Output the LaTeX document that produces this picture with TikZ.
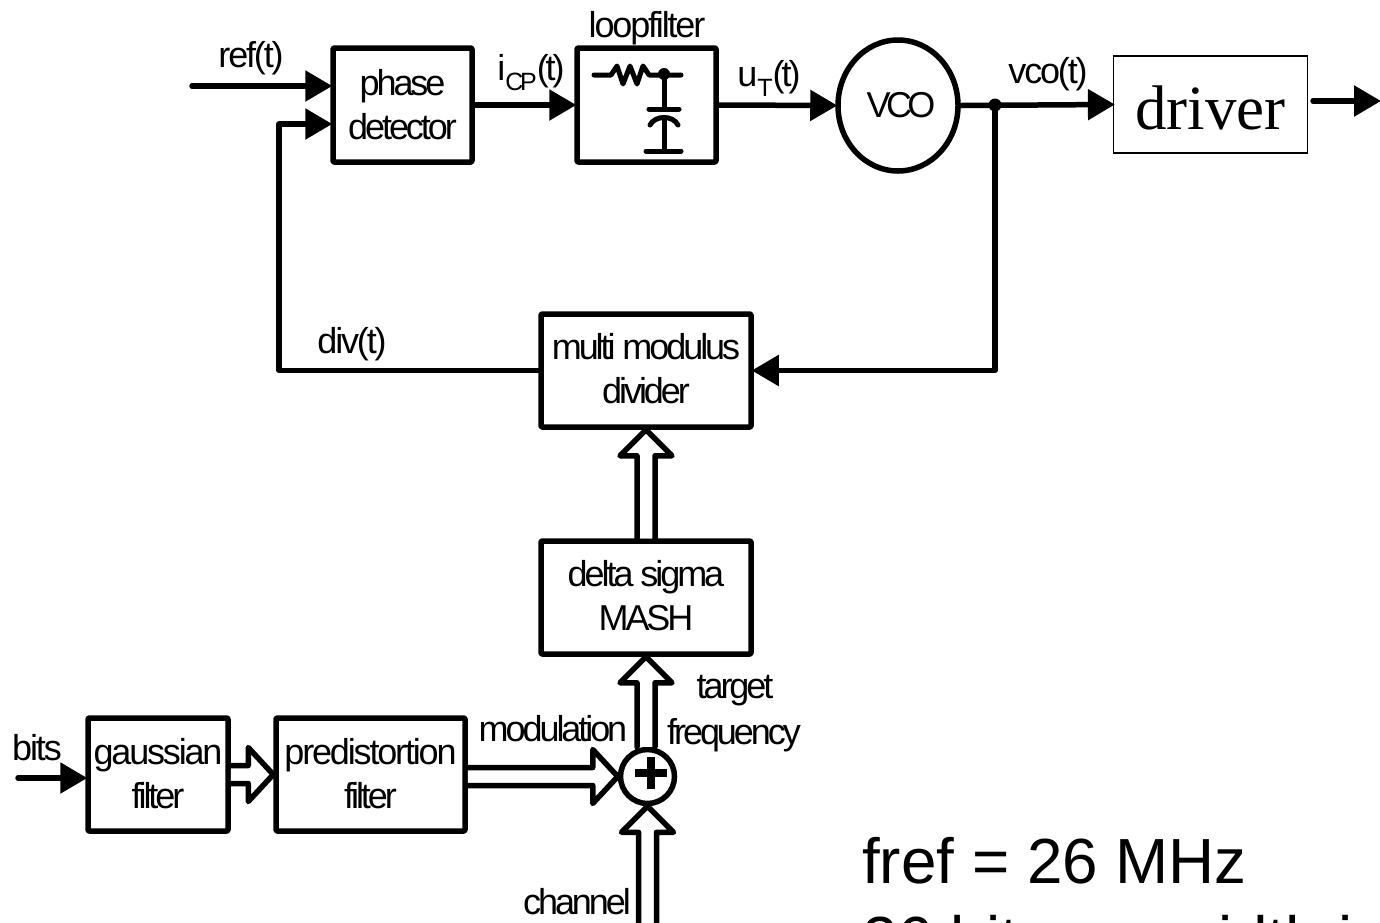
\documentclass[tikz,border=0pt]{standalone}
\usepackage{fontspec}
\setmainfont{Liberation Sans}
\newfontfamily\labf[LetterSpace=-8.5]{Liberation Sans}
\newfontfamily\midf[LetterSpace=-6]{Liberation Sans}
\newfontfamily\tightf[LetterSpace=-13]{Liberation Sans}
\newfontfamily\bigf{Liberation Sans}
\newfontfamily\tmsf{Liberation Serif}
\usetikzlibrary{arrows.meta,calc,shapes.geometric}
\tikzset{
  x=1pt,y=-1pt,
  blk/.style={draw,line width=5.5pt,line join=round,rounded corners=1pt,align=center,inner sep=0pt,
    font=\labf\fontsize{36}{44}\selectfont},
  txt/.style={inner sep=0pt,align=center,font=\labf\fontsize{36}{44}\selectfont},
  wire/.style={line width=5.5pt,line cap=round,line join=round},
  arr/.style={wire,shorten >=-2pt,-{Triangle[length=27pt,width=30pt]}},
  hollow/.style={draw,fill=white,line width=5.5pt,line join=round,line cap=round},
  note/.style={anchor=base west,inner sep=0pt,font=\bigf\fontsize{63.8}{76}\selectfont},
  sym/.style={line width=5pt,line cap=round,line join=round},
}
\newcommand\subs[1]{\raisebox{-10pt}{{\tightf\fontsize{25}{25}\selectfont #1}}}
% hollow arrow pointing up: from point #1 up to point #2
\newcommand\hollowup[2]{\draw[hollow] let \p1=(#1),\p2=(#2) in
  (\x2-9pt,\y1) -- (\x2-9pt,\y2-26pt) -- (\x2-26pt,\y2-26pt) -- (\x2,\y2) --
  (\x2+26pt,\y2-26pt) -- (\x2+9pt,\y2-26pt) -- (\x2+9pt,\y1);}
% hollow arrow pointing right
\newcommand\hollowright[2]{\draw[hollow] let \p1=(#1),\p2=(#2) in
  (\x1,\y2+9pt) -- (\x2-25pt,\y2+9pt) -- (\x2-25pt,\y2+27pt) -- (\x2,\y2) --
  (\x2-25pt,\y2-27pt) -- (\x2-25pt,\y2-9pt) -- (\x1,\y2-9pt);}
\begin{document}
\begin{tikzpicture}
\useasboundingbox (0,0) rectangle (1380,922);
\clip (0,0) rectangle (1380,922);
\fill[white] (0,0) rectangle (1380,922);
% blocks
\node[blk,minimum width=139pt,minimum height=114pt] (pd) at (402.5,105) {phase\\detector\\[-42pt]};
\node[blk,minimum width=139pt,minimum height=114pt] (lf) at (646.5,105) {};
\node[blk,ellipse,minimum width=120pt,minimum height=131pt] (vco) at (898,105.5) {\hspace*{6pt}{\tightf VCO}};
\node[draw,line width=1.2pt,minimum width=194pt,minimum height=97pt,inner sep=0pt,
  font=\tmsf\fontsize{63}{63}\selectfont] (drv) at (1210.5,104.5) {\raisebox{-3pt}[43pt][0pt]{driver}};
\node[blk,minimum width=210pt,minimum height=113pt] (mm) at (646,370.5) {multi modulus\\divider\\[-40pt]};
\node[blk,minimum width=210pt,minimum height=113pt] (ds) at (646,597.5) {delta sigma\\MASH\\[-40pt]};
\node[blk,minimum width=140pt,minimum height=113pt] (gf) at (158,774.5) {{\midf gaussian}\\filter\\[-41pt]};
\node[blk,minimum width=189pt,minimum height=113pt] (pf) at (370.5,774.5) {{\midf predistortion}\\filter\\[-41pt]};
\node[draw,circle,line width=5.5pt,minimum size=54pt,inner sep=0pt] (sum) at (647.5,776.5) {};
% plus sign
\draw[line width=8pt] (635,773) -- (667,773);
\draw[line width=8pt] (651,757) -- (651,789);
% free ends and junctions
\coordinate (refin) at (192,86);
\coordinate (bitsin) at (18,778);
\coordinate (drvout) at (1313,101);
\coordinate (drvend) at (1379,101);
\coordinate (chin) at (648,930);
\coordinate (j) at (995,105);
\coordinate (fbcorner) at (279,124);
% wires
\draw[arr] (refin) -- (refin -| pd.west);
\draw[arr] (mm.west) -- (mm.west -| fbcorner) -- (fbcorner) -- (fbcorner -| pd.west);
\draw[arr] (pd.east |- lf) -- (lf.west);
\draw[arr] (lf.east) -- (vco.west);
\draw[arr] (vco.east) -- (drv.west);
\draw[arr] (drvout) -- (drvend);
\draw[arr] (j) -- (j |- mm.east) -- (mm.east);
\draw[arr] (bitsin) -- (bitsin -| gf.west);
\fill (j) circle (6.5pt);
% hollow buses
\hollowup{ds.north}{mm.south}
\hollowup{sum.north}{ds.south}
\hollowup{chin}{sum.south}
\hollowright{pf.east}{sum.west}
\hollowright{gf.east}{pf.west}
% loop filter symbol
\draw[sym]
  (594,75) -- (611,75) -- (617,66) -- (623,84) -- (630,66) -- (637,84) -- (643,66) -- (649,75) -- (681,75);
\fill (664,74) circle (6pt);
\draw[sym] (664,74) -- (664,109);
\draw[sym] (649,109) -- (679,109);
\draw[sym] (650,125) .. controls (655,115) and (673,115) .. (678,125);
\draw[sym] (664,118) -- (664,151);
\draw[sym] (646,151) -- (681,151);
% labels
\node[txt] (lref) at (251,58) {{\midf ref(t)}};
\node[txt] (licp) at (531,73) {i\subs{CP}(t)};
\node[txt] (lut) at (769,78) {u\subs{T}(t)};
\node[txt] (lvco) at (1048,74) {{\midf vco(t)}};
\node[txt] (llf) at (647,28) {{\midf loopfilter}};
\node[txt] (ldiv) at (352,344) {{\midf div(t)}};
\node[txt] (lbits) at (37,748) {{\midf bits}};
\node[txt] (lmod) at (553,729) {modulation};
\node[txt] (ltar) at (735,691) {target};
\node[txt] (lfrq) at (734,735) {frequency};
\node[txt] (lch) at (577,902) {channel};
\node[note] (n1) at (862,883.5) {fref = 26 MHz};
\node[note] (n2) at (862,961) {26 bit};
\node[note] (n3) at (1172,961) {width is};
\end{tikzpicture}
\end{document}
